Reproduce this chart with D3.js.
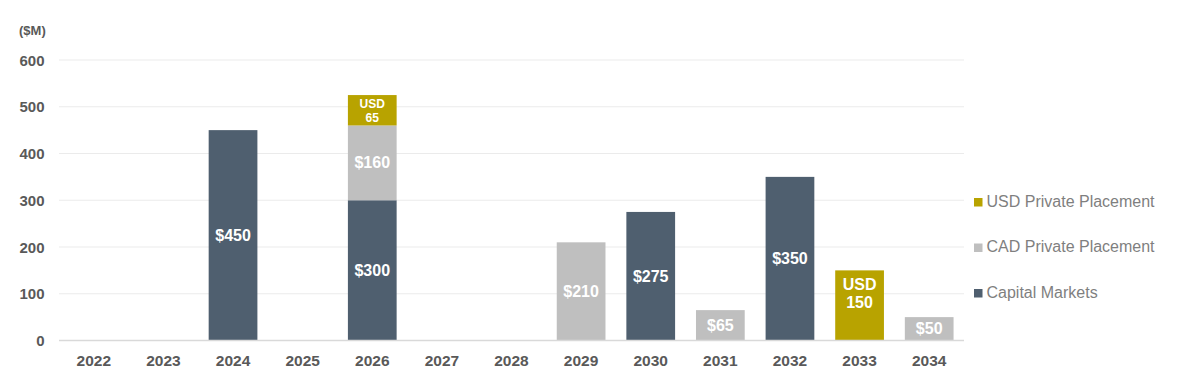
<!DOCTYPE html>
<html><head><meta charset="utf-8">
<script src="https://cdn.jsdelivr.net/npm/d3@7"></script>
<style>body{margin:0;background:#fff;}svg{display:block;font-family:"Liberation Sans",Arial,sans-serif;}</style>
</head><body>
<svg id="chart" width="1198" height="388"></svg>
<script>
const years = ["2022","2023","2024","2025","2026","2027","2028","2029","2030","2031","2032","2033","2034"];
const capitalMarkets = [0,0,450,0,300,0,0,0,275,0,350,0,0];
const cadPrivate = [0,0,0,0,160,0,0,210,0,65,0,0,50];
const usdPrivate = [0,0,0,0,65,0,0,0,0,0,0,150,0];
const seriesNames = ["Capital Markets","CAD Private Placement","USD Private Placement"];
const seriesColors = ["#4f5f6f","#bfbfbf","#b8a300"];
const yTicks = [0,100,200,300,400,500,600];
const unitLabel = "($M)";

function labelFor(si, v){ return si===2 ? ["USD", String(v)] : ["$"+v]; }

const svg = d3.select("#chart");
const x = d3.scaleBand().domain(years).range([59,964]).paddingInner(0.3).paddingOuter(0.15);
const y = d3.scaleLinear().domain([0,600]).range([340.5,60]);

// gridlines
svg.append("g").selectAll("line").data(yTicks.filter(t=>t>0)).join("line")
  .attr("x1",59).attr("x2",964).attr("y1",d=>y(d)).attr("y2",d=>y(d))
  .attr("stroke","#ebebeb").attr("stroke-width",1);

// y labels
svg.append("g").selectAll("text").data(yTicks).join("text")
  .attr("x",44.5).attr("y",d=>y(d)+5.5).attr("text-anchor","end")
  .attr("font-size",15).attr("font-weight","bold").attr("fill","#595959").text(d=>d);
svg.append("text").attr("x",19).attr("y",35).attr("font-size",13).attr("font-weight","bold").attr("fill","#595959").text(unitLabel);

// stacked bars
const rows = years.map((yr,i)=>({year:yr, s0:capitalMarkets[i], s1:cadPrivate[i], s2:usdPrivate[i]}));
const stack = d3.stack().keys(["s0","s1","s2"])(rows);
stack.forEach((layer,si)=>{
  const g = svg.append("g");
  layer.forEach(d=>{
    const v = d[1]-d[0];
    if(v<=0) return;
    const top = y(d[1]), bot = y(d[0]);
    g.append("rect").attr("x",x(d.data.year)).attr("width",x.bandwidth())
      .attr("y",top).attr("height",bot-top).attr("fill",seriesColors[si]);
    const lines = labelFor(si,v);
    const cx = x(d.data.year)+x.bandwidth()/2;
    let fs = 16, lh = 18, firstBase;
    if(lines.length>1){
      if(bot-top < 40){ fs = 12; lh = 13.5; firstBase = (top+bot)/2 - lh/2 + 4.5; }
      else { firstBase = top + 20; }
    } else {
      firstBase = (top+bot)/2 + 5.5;
    }
    lines.forEach((ln,li)=>{
      g.append("text").attr("text-anchor","middle").attr("font-size",fs).attr("font-weight","bold").attr("fill","#fff")
        .attr("x",cx).attr("y",firstBase+li*lh).text(ln);
    });
  });
});

// baseline
svg.append("line").attr("x1",59).attr("x2",964).attr("y1",y(0)).attr("y2",y(0)).attr("stroke","#d9d9d9").attr("stroke-width",1.5);

// x labels
svg.append("g").selectAll("text").data(years).join("text")
  .attr("x",d=>x(d)+x.bandwidth()/2).attr("y",365.5).attr("text-anchor","middle")
  .attr("font-size",15.5).attr("font-weight","bold").attr("fill","#595959").text(d=>d);

// legend
const legendItems = [2,1,0];
const lg = svg.append("g");
legendItems.forEach((si,i)=>{
  const ly = 206.5 + i*45.5;
  lg.append("rect").attr("x",974).attr("y",ly-8.5).attr("width",8.5).attr("height",8.5).attr("fill",seriesColors[si]);
  lg.append("text").attr("x",986.5).attr("y",ly).attr("font-size",16).attr("fill","#7f7f7f").text(seriesNames[si]);
});
</script>
</body></html>
